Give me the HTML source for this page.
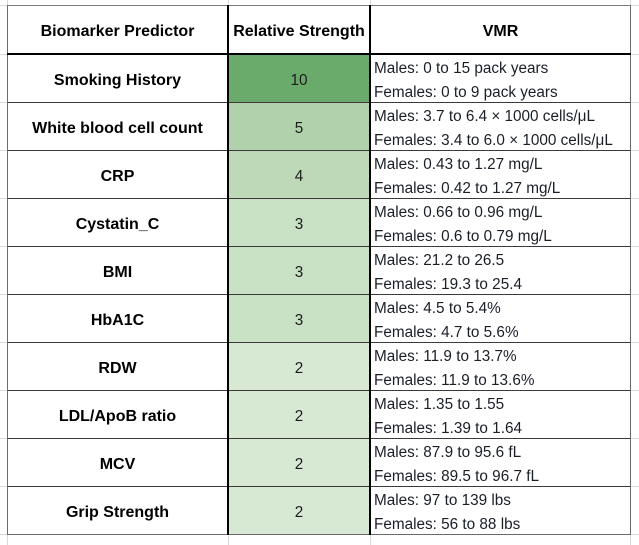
<!DOCTYPE html>
<html>
<head>
<meta charset="utf-8">
<style>
  html, body { margin:0; padding:0; }
  body { width:639px; height:545px; position:relative; background:#fff; overflow:hidden;
         font-family:"Liberation Sans", Arial, sans-serif; }
  .g { position:absolute; background:#dadada; }
  .l { position:absolute; }
  .c1, .c2, .hd { position:absolute; display:flex; align-items:center; justify-content:center; box-sizing:border-box; }
  .c1 { left:8px; width:219px; height:48px; font-weight:bold; font-size:16px; color:#000; padding-top:4px; }
  .c2 { left:229px; width:140px; height:48px; font-size:15.3px; color:#1c1c1c; padding-top:3px; }
  .c3 { position:absolute; left:374px; width:255px; height:48px; font-size:15.3px; color:#1a1e26;
        line-height:23.5px; padding-top:2.4px; box-sizing:border-box; white-space:nowrap; }
  .hd { top:6px; height:47px; font-weight:bold; font-size:16px; color:#000; padding-top:4px; }
</style>
</head>
<body>
<!-- background gridlines -->
<div class="g" style="left:7px;top:0;width:1px;height:545px"></div>
<div class="g" style="left:228px;top:0;width:1px;height:545px"></div>
<div class="g" style="left:370px;top:0;width:1px;height:545px"></div>
<div class="g" style="left:630px;top:0;width:1px;height:545px"></div>
<div class="g" style="left:0;top:5px;width:639px;height:1px"></div>
<div class="g" style="left:0;top:54px;width:639px;height:1px"></div>
<div class="g" style="left:0;top:102px;width:639px;height:1px"></div>
<div class="g" style="left:0;top:150px;width:639px;height:1px"></div>
<div class="g" style="left:0;top:198px;width:639px;height:1px"></div>
<div class="g" style="left:0;top:246px;width:639px;height:1px"></div>
<div class="g" style="left:0;top:294px;width:639px;height:1px"></div>
<div class="g" style="left:0;top:342px;width:639px;height:1px"></div>
<div class="g" style="left:0;top:390px;width:639px;height:1px"></div>
<div class="g" style="left:0;top:438px;width:639px;height:1px"></div>
<div class="g" style="left:0;top:486px;width:639px;height:1px"></div>
<div class="g" style="left:0;top:534px;width:639px;height:1px"></div>

<!-- table white fill -->
<div class="l" style="left:7px;top:5px;width:624px;height:530px;background:#fff"></div>

<!-- column 2 fills -->
<div class="l" style="left:228px;top:55px;width:142px;height:48px;background:#6aaa6b"></div>
<div class="l" style="left:228px;top:103px;width:142px;height:48px;background:#b0d1ab"></div>
<div class="l" style="left:228px;top:151px;width:142px;height:48px;background:#bdd9b8"></div>
<div class="l" style="left:228px;top:199px;width:142px;height:144px;background:#c9e1c5"></div>
<div class="l" style="left:228px;top:343px;width:142px;height:192px;background:#d7e8d3"></div>

<!-- row lines -->
<div class="l" style="left:7px;top:102px;width:624px;height:1px;background:#3a3a3a"></div>
<div class="l" style="left:7px;top:150px;width:624px;height:1px;background:#3a3a3a"></div>
<div class="l" style="left:7px;top:198px;width:624px;height:1px;background:#3a3a3a"></div>
<div class="l" style="left:7px;top:246px;width:624px;height:1px;background:#3a3a3a"></div>
<div class="l" style="left:7px;top:294px;width:624px;height:1px;background:#3a3a3a"></div>
<div class="l" style="left:7px;top:342px;width:624px;height:1px;background:#3a3a3a"></div>
<div class="l" style="left:7px;top:390px;width:624px;height:1px;background:#3a3a3a"></div>
<div class="l" style="left:7px;top:438px;width:624px;height:1px;background:#3a3a3a"></div>
<div class="l" style="left:7px;top:486px;width:624px;height:1px;background:#3a3a3a"></div>

<!-- outer border -->
<div class="l" style="left:7px;top:5px;width:624px;height:1px;background:#7a7a7a"></div>
<div class="l" style="left:7px;top:534px;width:624px;height:1px;background:#6a6a6a"></div>
<div class="l" style="left:7px;top:5px;width:1px;height:530px;background:#6a6a6a"></div>
<div class="l" style="left:630px;top:5px;width:1px;height:530px;background:#6a6a6a"></div>

<!-- header bottom thick -->
<div class="l" style="left:7px;top:53px;width:624px;height:2px;background:#000"></div>
<!-- column dividers thick -->
<div class="l" style="left:227px;top:5px;width:2px;height:530px;background:#000"></div>
<div class="l" style="left:369px;top:5px;width:2px;height:530px;background:#000"></div>

<!-- header -->
<div class="hd" style="left:8px;width:219px">Biomarker Predictor</div>
<div class="hd" style="left:229px;width:140px">Relative Strength</div>
<div class="hd" style="left:371px;width:259px">VMR</div>

<!-- rows -->
<div class="c1" style="top:55px">Smoking History</div>
<div class="c2" style="top:55px">10</div>
<div class="c3" style="top:55px">Males: 0 to 15 pack years<br>Females: 0 to 9 pack years</div>

<div class="c1" style="top:103px">White blood cell count</div>
<div class="c2" style="top:103px">5</div>
<div class="c3" style="top:103px">Males: 3.7 to 6.4 × 1000 cells/μL<br>Females: 3.4 to 6.0 × 1000 cells/μL</div>

<div class="c1" style="top:151px">CRP</div>
<div class="c2" style="top:151px">4</div>
<div class="c3" style="top:151px">Males: 0.43 to 1.27 mg/L<br>Females: 0.42 to 1.27 mg/L</div>

<div class="c1" style="top:199px">Cystatin_C</div>
<div class="c2" style="top:199px">3</div>
<div class="c3" style="top:199px">Males: 0.66 to 0.96 mg/L<br>Females: 0.6 to 0.79 mg/L</div>

<div class="c1" style="top:247px">BMI</div>
<div class="c2" style="top:247px">3</div>
<div class="c3" style="top:247px">Males: 21.2 to 26.5<br>Females: 19.3 to 25.4</div>

<div class="c1" style="top:295px">HbA1C</div>
<div class="c2" style="top:295px">3</div>
<div class="c3" style="top:295px">Males: 4.5 to 5.4%<br>Females: 4.7 to 5.6%</div>

<div class="c1" style="top:343px">RDW</div>
<div class="c2" style="top:343px">2</div>
<div class="c3" style="top:343px">Males: 11.9 to 13.7%<br>Females: 11.9 to 13.6%</div>

<div class="c1" style="top:391px">LDL/ApoB ratio</div>
<div class="c2" style="top:391px">2</div>
<div class="c3" style="top:391px">Males: 1.35 to 1.55<br>Females: 1.39 to 1.64</div>

<div class="c1" style="top:439px">MCV</div>
<div class="c2" style="top:439px">2</div>
<div class="c3" style="top:439px">Males: 87.9 to 95.6 fL<br>Females: 89.5 to 96.7 fL</div>

<div class="c1" style="top:487px">Grip Strength</div>
<div class="c2" style="top:487px">2</div>
<div class="c3" style="top:487px">Males: 97 to 139 lbs<br>Females: 56 to 88 lbs</div>
</body>
</html>
